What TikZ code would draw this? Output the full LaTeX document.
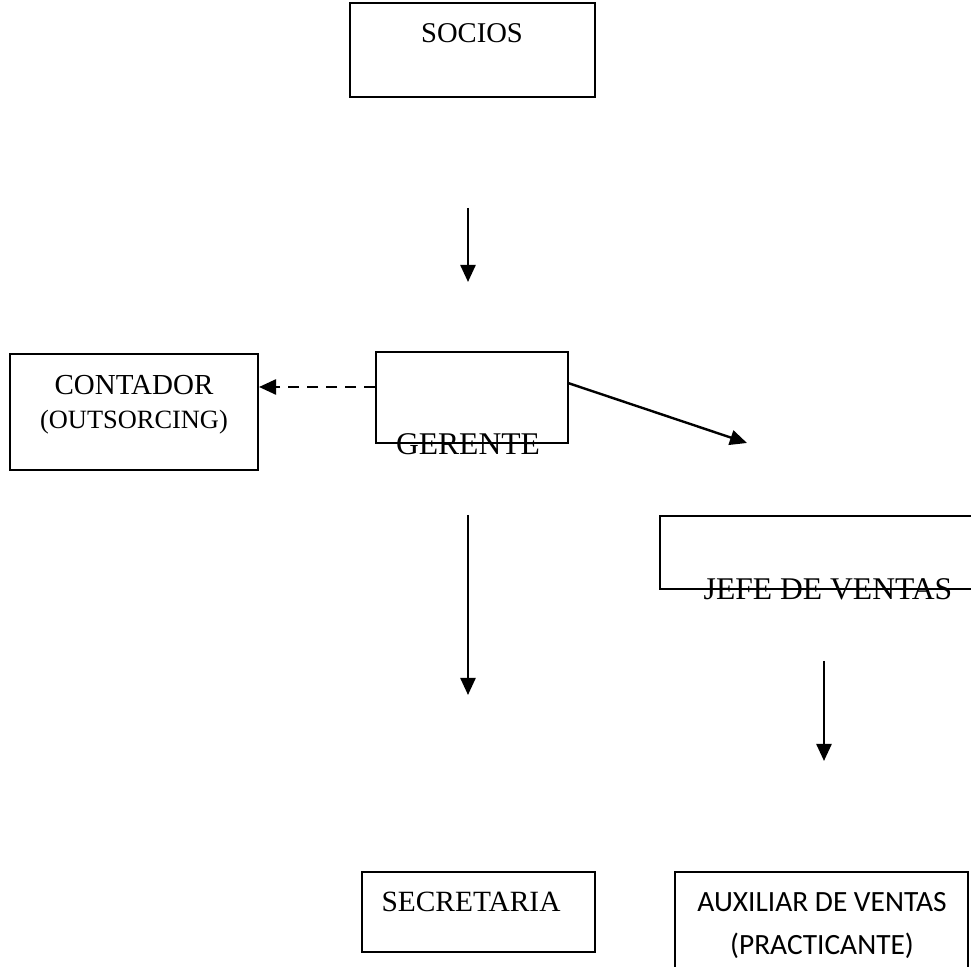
\documentclass[tikz,border=0pt]{standalone}
\usepackage{fontspec}
\setmainfont{Liberation Serif}
\newfontfamily\calibri{Carlito}
\usetikzlibrary{arrows.meta}

\begin{document}
\begin{tikzpicture}[x=0.5pt,y=-0.5pt,
    box/.style={draw,line width=1pt,inner sep=0pt},
    lbl/.style={inner sep=0pt,anchor=base,font=\fontsize{14.5}{17}\selectfont},
    lblbig/.style={inner sep=0pt,anchor=base,font=\fontsize{15.8}{18}\selectfont},
    lblsmall/.style={inner sep=0pt,anchor=base,font=\fontsize{13.2}{15}\selectfont},
    lblsans/.style={inner sep=0pt,anchor=base,font=\calibri\fontsize{14.7}{17}\selectfont},
    arr/.style={-{Triangle[length=8.5pt,width=7.5pt]},line width=1.2pt}
  ]
    \useasboundingbox (0,0) rectangle (971,967);
    % boxes
    \node[box,minimum width=122.5pt,minimum height=47pt] (socios) at (472.5,50) {};
    \node[box,minimum width=96pt,minimum height=45.5pt] (gerente) at (472,397.5) {};
    \node[box,minimum width=124pt,minimum height=58pt] (contador) at (134,412) {};
    \node[box,minimum width=157.5pt,minimum height=36.5pt] (jefe) at (817.5,552.5) {};
    \node[box,minimum width=116.5pt,minimum height=40pt] (secretaria) at (478.5,912) {};
    \node[box,minimum width=146.5pt,minimum height=60pt] (auxiliar) at (821.5,932) {};
    % texts
    \node[lbl,font=\fontsize{14.3}{17}\selectfont] (socios-t) at (472,43) {SOCIOS};
    \node[lblbig] (gerente-t) at (468,455) {GERENTE};
    \node[lbl] (contador-t) at (134,395) {CONTADOR};
    \node[lblsmall] (contador-t2) at (134,429) {(OUTSORCING)};
    \node[lblbig] (jefe-t) at (828,600) {JEFE DE VENTAS};
    \node[lbl,font=\fontsize{14.7}{17}\selectfont] (secretaria-t) at (471,912) {SECRETARIA};
    \node[lblsans] (auxiliar-t) at (822,911.5) {AUXILIAR DE VENTAS};
    \node[lblsans] (auxiliar-t2) at (822,954.5) {(PRACTICANTE)};
    % free arrow ends
    \coordinate (s1) at (468,208);
    \coordinate (s2) at (468,282);
    \coordinate (g1) at (568,383);
    \coordinate (g2) at (747,443);
    \coordinate (g3) at (468,515);
    \coordinate (g4) at (468,695);
    \coordinate (j1) at (824,661);
    \coordinate (j2) at (824,761);
    % arrows
    \draw[arr] (s1) -- (s2);
    \draw[arr,dash pattern=on 5.5pt off 4pt] (gerente.west |- 0,387) -- (contador.east |- 0,387);
    \draw[arr] (g1) -- (g2);
    \draw[arr] (g3) -- (g4);
    \draw[arr] (j1) -- (j2);
\end{tikzpicture}
\end{document}
